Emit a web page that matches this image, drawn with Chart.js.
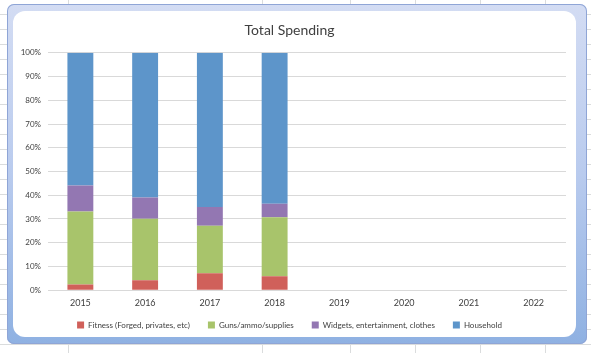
<!DOCTYPE html>
<html>
<head>
<meta charset="utf-8">
<script src="https://cdn.jsdelivr.net/npm/chart.js@4/dist/chart.umd.min.js"></script>
<style>
  html, body { margin: 0; padding: 0; }
  body {
    width: 591px; height: 353px; position: relative; overflow: hidden;
    background-color: #fff;
    background-image:
      repeating-linear-gradient(to bottom, transparent 0, transparent 14px, #dadcdd 14px, #dadcdd 15px);
  }
  .col { position: absolute; top: 0; bottom: 0; width: 1px; background: #dadcdd; }
  #frame {
    position: absolute; left: 7px; top: 4px; width: 580px; height: 340px;
    border-radius: 7px;
    background: linear-gradient(to bottom, #d3dcf3 0%, #b9cbee 50%, #8fb1e2 100%);
    box-shadow: inset 0 0 0 1px #8fa5d6;
  }
  #inner {
    position: absolute; left: 13px; top: 11px; width: 563px; height: 326px;
    background: #fff; border-radius: 12px;
  }
  #c { position: absolute; left: 0; top: 0; }
</style>
</head>
<body>
<div class="col" style="left:68px"></div>
<div class="col" style="left:262px"></div>
<div class="col" style="left:350px"></div>
<div class="col" style="left:415px"></div>
<div class="col" style="left:480px"></div>
<div class="col" style="left:545px"></div>
<div id="frame"></div>
<div id="inner"><canvas id="c" width="563" height="326"></canvas></div>
<script>
// years on the x axis (2019-2022 have no data yet)
const years = ["2015", "2016", "2017", "2018", "2019", "2020", "2021", "2022"];

// share of total spending, percent
const fitness   = [2.4, 4.2, 7.1, 5.9, null, null, null, null];
const guns      = [30.8, 25.9, 20.1, 24.8, null, null, null, null];
const widgets   = [10.9, 9.0, 7.8, 5.7, null, null, null, null];
const household = [55.9, 60.9, 65.0, 63.6, null, null, null, null];

const seriesNames = ["Fitness (Forged, privates, etc)", "Guns/ammo/supplies", "Widgets, entertainment, clothes", "Household"];
const yTicks = [0, 10, 20, 30, 40, 50, 60, 70, 80, 90, 100];

const font = "Lato, 'Open Sans', sans-serif";
const TRIM = 12; // legend padding is wide sideways, take some back vertically

function ds(label, data, color) {
  return {
    label: label,
    data: data,
    backgroundColor: color,
    borderWidth: 0,
    barPercentage: 0.4,
    categoryPercentage: 1
  };
}

// shrink the legend box without moving its text
const legendTrim = {
  id: "legendTrim",
  beforeLayout(chart) {
    const lg = chart.legend;
    if (lg && !lg._trimmed) {
      const fit = lg.fit;
      lg.fit = function () { fit.call(this); this.height -= TRIM; };
      lg._trimmed = true;
    }
  },
  afterLayout(chart) {
    chart.legend.top -= TRIM;
  }
};

new Chart(document.getElementById("c"), {
  type: "bar",
  data: {
    labels: years,
    datasets: [
      ds(seriesNames[0], fitness, "#d0605a"),
      ds(seriesNames[1], guns, "#a8c46b"),
      ds(seriesNames[2], widgets, "#9377b2"),
      ds(seriesNames[3], household, "#5d95ca")
    ]
  },
  plugins: [legendTrim],
  options: {
    responsive: false,
    animation: false,
    layout: { padding: { left: 0, right: 10, top: 0, bottom: -2 } },
    plugins: {
      title: {
        display: true,
        text: "Total Spending",
        color: "#404040",
        font: { family: font, size: 14, weight: "normal" },
        padding: { top: 11, bottom: 14 }
      },
      legend: {
        position: "bottom",
        labels: {
          color: "#404040",
          font: { family: font, size: 8 },
          boxWidth: 7,
          boxHeight: 7,
          padding: 18
        }
      },
      tooltip: { enabled: false }
    },
    scales: {
      x: {
        stacked: true,
        grid: { display: false, drawTicks: false },
        border: { color: "#d9d9d9" },
        ticks: { color: "#404040", font: { family: font, size: 9 }, padding: 7 }
      },
      y: {
        stacked: true,
        min: 0,
        max: 100,
        afterFit: s => { s.width = 35; },
        afterBuildTicks: s => { s.ticks = yTicks.map(v => ({ value: v })); },
        grid: { color: "#d9d9d9", drawTicks: false },
        border: { display: false },
        ticks: {
          color: "#404040",
          font: { family: font, size: 8 },
          padding: 7,
          callback: v => v + "%"
        }
      }
    }
  }
});
</script>
</body>
</html>
